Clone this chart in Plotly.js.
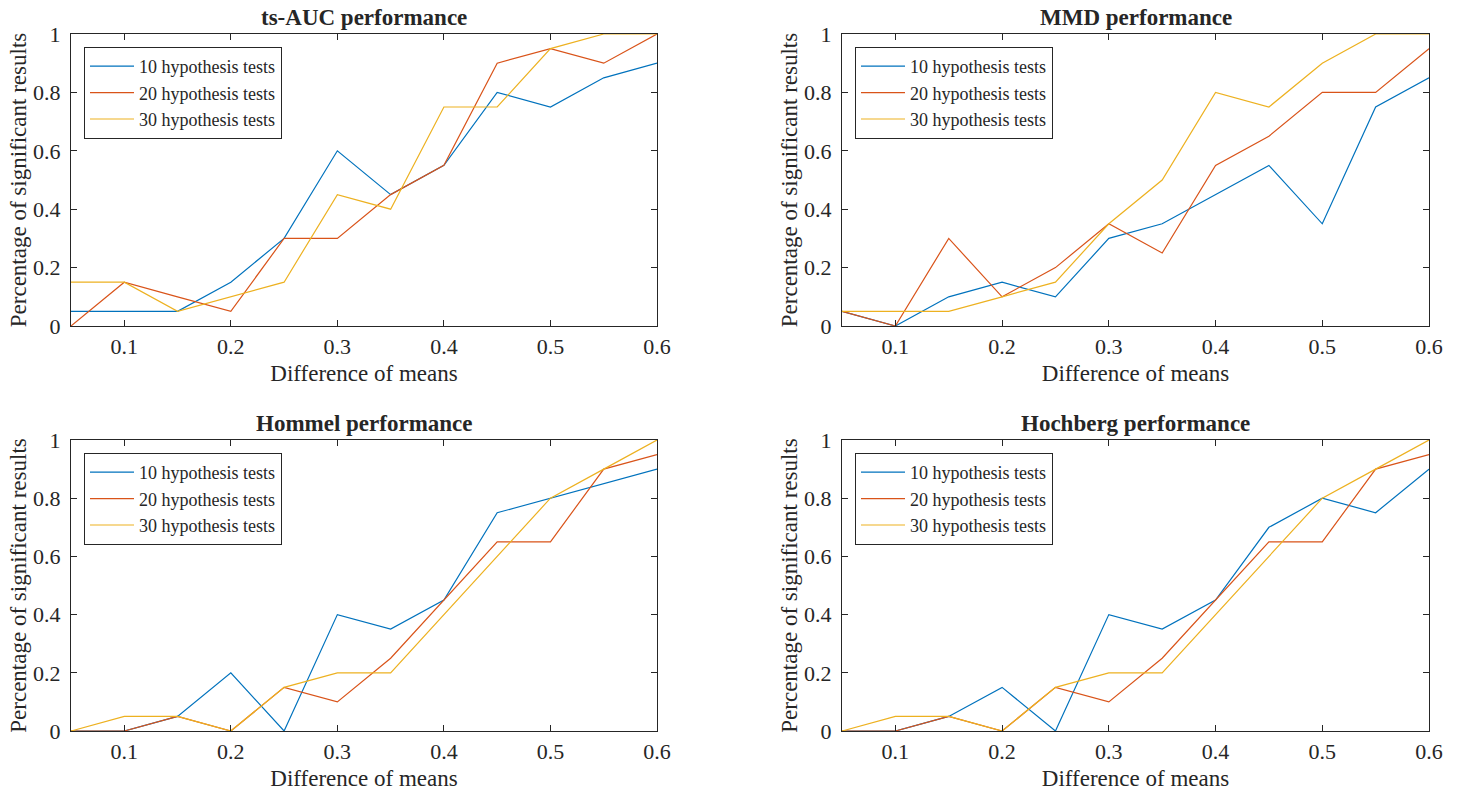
<!DOCTYPE html>
<html>
<head>
<meta charset="utf-8">
<script src="https://cdn.plot.ly/plotly-3.0.1.min.js"></script>
<style>html,body{margin:0;padding:0;background:#fff;}#chart{width:1460px;height:792px;}</style>
</head>
<body>
<div id="chart"></div>
<script>
const xVals = [0.05,0.1,0.15,0.2,0.25,0.3,0.35,0.4,0.45,0.5,0.55,0.6];
const seriesNames = ["10 hypothesis tests","20 hypothesis tests","30 hypothesis tests"];
const panelTitles = ["ts-AUC performance","MMD performance","Hommel performance","Hochberg performance"];

const tsAUC10 = [0.05,0.05,0.05,0.15,0.3,0.6,0.45,0.55,0.8,0.75,0.85,0.9];
const tsAUC20 = [0,0.15,0.1,0.05,0.3,0.3,0.45,0.55,0.9,0.95,0.9,1];
const tsAUC30 = [0.15,0.15,0.05,0.1,0.15,0.45,0.4,0.75,0.75,0.95,1,1];

const mmd10 = [0.05,0,0.1,0.15,0.1,0.3,0.35,0.45,0.55,0.35,0.75,0.85];
const mmd20 = [0.05,0,0.3,0.1,0.2,0.35,0.25,0.55,0.65,0.8,0.8,0.95];
const mmd30 = [0.05,0.05,0.05,0.1,0.15,0.35,0.5,0.8,0.75,0.9,1,1];

const hommel10 = [0,0,0.05,0.2,0,0.4,0.35,0.45,0.75,0.8,0.85,0.9];
const hommel20 = [0,0,0.05,0,0.15,0.1,0.25,0.45,0.65,0.65,0.9,0.95];
const hommel30 = [0,0.05,0.05,0,0.15,0.2,0.2,0.4,0.6,0.8,0.9,1];

const hochberg10 = [0,0,0.05,0.15,0,0.4,0.35,0.45,0.7,0.8,0.75,0.9];
const hochberg20 = [0,0,0.05,0,0.15,0.1,0.25,0.45,0.65,0.65,0.9,0.95];
const hochberg30 = [0,0.05,0.05,0,0.15,0.2,0.2,0.4,0.6,0.8,0.9,1];

const xTickVals = [0.1,0.2,0.3,0.4,0.5,0.6];
const yTickVals = [0,0.2,0.4,0.6,0.8,1];

const panels = [
  [tsAUC10, tsAUC20, tsAUC30],
  [mmd10, mmd20, mmd30],
  [hommel10, hommel20, hommel30],
  [hochberg10, hochberg20, hochberg30]
];
const colors = ["#0072BD","#D95319","#EDB120"];
const FONT = "Liberation Serif";
const TXT = "#262626";

const W = 1460, H = 792;
const px = v => v / W;
const py = v => 1 - v / H;
const xDom = [[px(71), px(657)], [px(842), px(1429)]];
const yDom = [[py(326), py(34)], [py(731), py(440)]];

const traces = [];
const layout = {
  width: W, height: H,
  margin: {l:0, r:0, t:0, b:0},
  paper_bgcolor: "#fff", plot_bgcolor: "#fff",
  font: {family: FONT, color: TXT, size: 22},
  showlegend: true,
  annotations: []
};

panels.forEach((p, i) => {
  const col = i % 2, row = Math.floor(i / 2);
  const sfx = i === 0 ? "" : String(i + 1);
  const legName = "legend" + sfx;
  p.forEach((ys, k) => {
    traces.push({
      x: xVals, y: ys, type: "scatter", mode: "lines",
      name: seriesNames[k],
      line: {color: colors[k], width: 1.2},
      xaxis: "x" + sfx, yaxis: "y" + sfx,
      legend: legName
    });
  });
  const axCommon = {
    showgrid: false, zeroline: false, showline: true, mirror: "ticks",
    linecolor: TXT, linewidth: 1, ticks: "inside", ticklen: 6, tickcolor: TXT,
    tickfont: {family: FONT, size: 22, color: TXT}, automargin: false
  };
  layout["xaxis" + sfx] = Object.assign({}, axCommon, {
    domain: xDom[col], range: [0.05, 0.6], anchor: "y" + sfx,
    tickvals: xTickVals, ticktext: xTickVals.map(String), ticklabelstandoff: 1,
    title: {text: "Difference of means", font: {family: FONT, size: 23, color: TXT}, standoff: 6}
  });
  layout["yaxis" + sfx] = Object.assign({}, axCommon, {
    domain: yDom[row], range: [0, 1], anchor: "x" + sfx,
    tickvals: yTickVals, ticktext: yTickVals.map(String), ticklabelstandoff: 5,
    title: {text: "Percentage of significant results", font: {family: FONT, size: 23, color: TXT}, standoff: 0}
  });
  layout[legName] = {
    x: xDom[col][0] + px(13), y: yDom[row][1] - 13 / H,
    xanchor: "left", yanchor: "top",
    bordercolor: TXT, borderwidth: 1, bgcolor: "#fff",
    font: {family: FONT, size: 18, color: TXT},
    itemwidth: 44,
    tracegroupgap: 0
  };
  layout.annotations.push({
    text: "<b>" + panelTitles[i] + "</b>",
    xref: "paper", yref: "paper",
    x: (xDom[col][0] + xDom[col][1]) / 2, y: yDom[row][1],
    xanchor: "center", yanchor: "bottom", yshift: 2, showarrow: false,
    font: {family: FONT, size: 23, color: TXT}
  });
});

Plotly.newPlot("chart", traces, layout, {displayModeBar: false, staticPlot: true});
</script>
</body>
</html>
